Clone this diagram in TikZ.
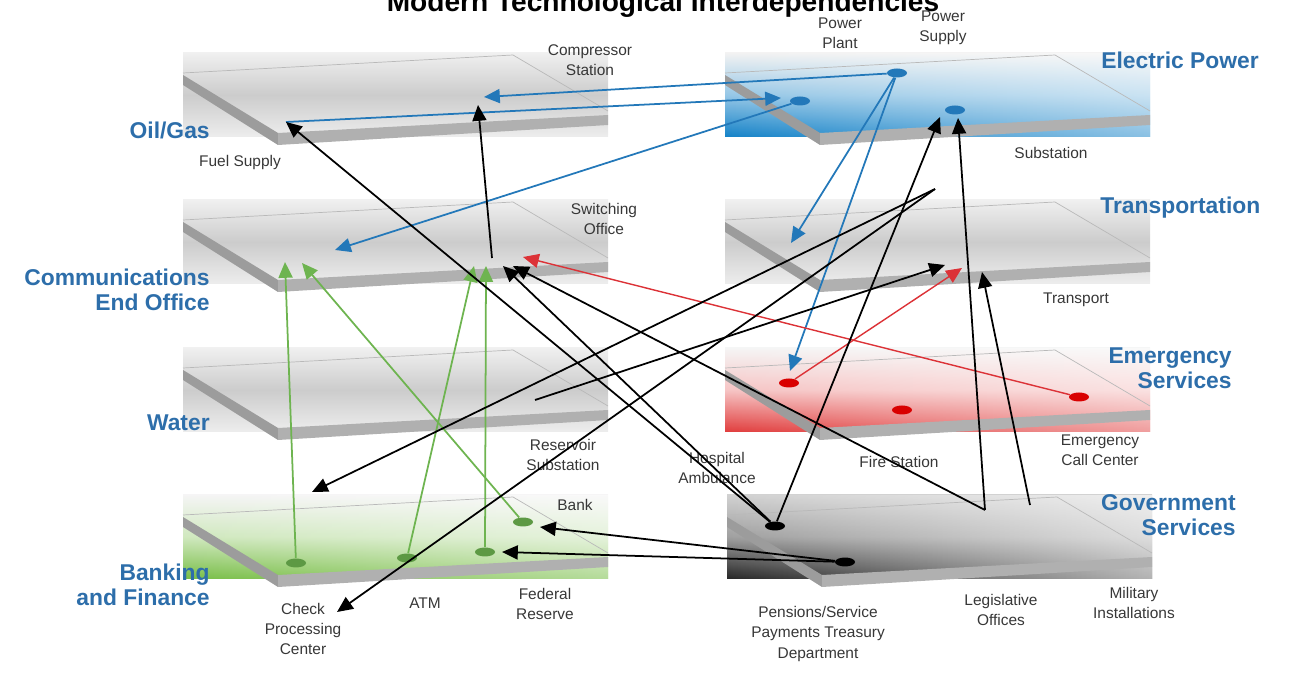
\documentclass[tikz,border=0pt]{standalone}
\usepackage{fontspec}
\setmainfont{Liberation Sans}
\usepackage{tikz}
\usetikzlibrary{shapes,arrows.meta,fadings}

\definecolor{catblue}{RGB}{45,110,170}
\definecolor{txtgray}{RGB}{55,55,55}
\definecolor{linkblue}{RGB}{35,120,185}
\definecolor{linkgreen}{RGB}{110,180,80}
\definecolor{linkred}{RGB}{220,50,55}
\definecolor{elecblue}{RGB}{20,130,200}
\definecolor{emred}{RGB}{225,60,60}
\definecolor{bankgreen}{RGB}{120,190,70}

\tikzstyle{graylayer} = [top color=gray!12, bottom color=gray!14, middle color=gray!40]
\tikzstyle{eleclayer} = [top color=gray!10, bottom color=elecblue, middle color=elecblue!45]
\tikzstyle{emlayer} = [top color=gray!8, bottom color=emred, middle color=emred!30]
\tikzstyle{banklayer} = [top color=gray!8, bottom color=bankgreen, middle color=bankgreen!35]
\tikzstyle{govlayer} = [top color=gray!36, bottom color=black!85, middle color=gray!75]
\tikzstyle{sideband} = [fill=gray!78]
\tikzstyle{frontband} = [fill=gray!62]
\tikzstyle{backedge} = [draw=gray!55, line width=0.4pt]
\tikzstyle{cat} = [text=catblue, font=\bfseries\fontsize{13}{14.5}\selectfont, align=right, inner sep=0pt]
\tikzstyle{lbl} = [text=txtgray, font=\fontsize{8.8}{11.5}\selectfont, align=center, inner sep=0pt]
\tikzstyle{dot} = [ellipse, minimum width=0.4cm, minimum height=0.18cm, inner sep=0pt]
\tikzstyle{link} = [line width=1pt, ->]
\tikzstyle{blk} = [link, black]
\tikzstyle{blu} = [link, linkblue]
\tikzstyle{grn} = [link, linkgreen]
\tikzstyle{rd} = [link, linkred, line width=0.8pt]

% one slab: left x, top y, fill style, whitening towards the right
\newcommand{\slabplane}[4]{%
  \begin{scope}[shift={(#1,#2)}]
    \fill[#3] (0,0) rectangle (425,84);
    \fill[white, path fading=west, fill opacity=#4] (0,0) rectangle (425,84);
    \draw[backedge] (0,20) -- (330,2) -- (425,58);
    \fill[sideband] (0,22) -- (95,80) -- (95,92) -- (0,32) -- cycle;
    \fill[frontband] (95,80) -- (425,62) -- (425,72) -- (95,92) -- cycle;
  \end{scope}}

\begin{document}
\begin{tikzpicture}[x=0.02cm, y=-0.02cm, >={Triangle[length=9pt,width=8pt]}]
    \useasboundingbox (0,0) rectangle (1289,675);
    % We start by placing the layers
    \slabplane{183}{53}{graylayer}{0}
    \slabplane{183}{200}{graylayer}{0}
    \slabplane{183}{348}{graylayer}{0}
    \slabplane{183}{495}{banklayer}{0.45}
    \slabplane{725}{53}{eleclayer}{0.5}
    \slabplane{725}{200}{graylayer}{0}
    \slabplane{725}{348}{emlayer}{0.5}
    \slabplane{727}{495}{govlayer}{0.65}

    % title and sector names
    \node[anchor=base, font=\bfseries\fontsize{16}{18}\selectfont] (title) at (663,12) {Modern Technological Interdependencies};
    \node[cat, anchor=east] (oil) at (210,130) {Oil/Gas};
    \node[cat, anchor=east] (comm) at (210,290) {Communications\\End Office};
    \node[cat, anchor=east] (water) at (210,423) {Water};
    \node[cat, anchor=east] (banking) at (210,585) {Banking\\and Finance};
    \node[cat, anchor=west] (elec) at (1101,60) {Electric Power};
    \node[cat, anchor=west] (trans) at (1100,208) {Transportation};
    \node[cat, anchor=east] (emerg) at (1232,368) {Emergency\\Services};
    \node[cat, anchor=east] (gov) at (1236,515) {Government\\Services};

    % facility names
    \node[lbl] (compr-l) at (590,60) {Compressor\\Station};
    \node[lbl] (fuel-l) at (240,163) {Fuel Supply};
    \node[lbl] (plant-l) at (840,33) {Power\\Plant};
    \node[lbl] (supply-l) at (943,28) {Power\\Supply};
    \node[lbl] (subst-l) at (1051,153) {Substation};
    \node[lbl] (switch-l) at (604,219) {Switching\\Office};
    \node[lbl] (transp-l) at (1076,300) {Transport};
    \node[lbl] (reserv-l) at (563,455) {Reservoir\\Substation};
    \node[lbl] (hosp-l) at (717,468) {Hospital\\Ambulance};
    \node[lbl] (fire-l) at (899,462) {Fire Station};
    \node[lbl] (call-l) at (1100,450) {Emergency\\Call Center};
    \node[lbl] (bank-l) at (575,505) {Bank};
    \node[lbl] (check-l) at (303,629) {Check\\Processing\\Center};
    \node[lbl] (atm-l) at (425,603) {ATM};
    \node[lbl] (fed-l) at (545,604) {Federal\\Reserve};
    \node[lbl] (pens-l) at (818,634) {Pensions/Service\\Payments Treasury\\Department};
    \node[lbl] (legis-l) at (1001,610) {Legislative\\Offices};
    \node[lbl] (milit-l) at (1134,603) {Military\\Installations};

    % the facilities
    \node[dot, fill=linkblue] (plant) at (897,73) {};
    \node[dot, fill=linkblue] (supply) at (800,101) {};
    \node[dot, fill=linkblue] (subst) at (955,110) {};
    \node[dot, fill=red!85!black] (hosp) at (789,383) {};
    \node[dot, fill=red!85!black] (fire) at (902,410) {};
    \node[dot, fill=red!85!black] (call) at (1079,397) {};
    \node[dot, fill=linkgreen!85!black] (check) at (296,563) {};
    \node[dot, fill=linkgreen!85!black] (atm) at (407,558) {};
    \node[dot, fill=linkgreen!85!black] (fed) at (485,552) {};
    \node[dot, fill=linkgreen!85!black] (bank) at (523,522) {};
    \node[dot, fill=black] (pens) at (775,526) {};
    \node[dot, fill=black] (treas) at (845,562) {};

    % free ends and arrow tips
    \coordinate (fuel) at (286,122);
    \coordinate (compr-a) at (484,97);
    \coordinate (compr-b) at (478,105);
    \coordinate (supply-in) at (781,98);
    \coordinate (subst-a) at (940,117);
    \coordinate (subst-b) at (958,118);
    \coordinate (subst-out) at (935,189);
    \coordinate (comm-a) at (285,262);
    \coordinate (comm-b) at (302,263);
    \coordinate (comm-c) at (335,250);
    \coordinate (switch-out) at (492,258);
    \coordinate (switch-g1) at (474,266);
    \coordinate (switch-g2) at (486,266);
    \coordinate (switch-k1) at (503,266);
    \coordinate (switch-k2) at (513,266);
    \coordinate (switch-r) at (523,257);
    \coordinate (trans-b) at (791,243);
    \coordinate (trans-k1) at (945,265);
    \coordinate (trans-r) at (962,268);
    \coordinate (trans-k2) at (982,272);
    \coordinate (reserv) at (535,400);
    \coordinate (emerg-b) at (790,371);
    \coordinate (banking-in) at (312,492);
    \coordinate (check-in) at (337,612);
    \coordinate (bank-in) at (540,527);
    \coordinate (fed-in) at (502,552);
    \coordinate (legis) at (985,510);
    \coordinate (milit) at (1030,505);

    % blue links from electric power
    \draw[blu] (plant) -- (compr-a);
    \draw[blu] (fuel) -- (supply-in);
    \draw[blu] (supply) -- (comm-c);
    \draw[blu] (plant) -- (trans-b);
    \draw[blu] (plant) -- (emerg-b);
    % green links from banking
    \draw[grn] (check) -- (comm-a);
    \draw[grn] (bank) -- (comm-b);
    \draw[grn] (atm) -- (switch-g1);
    \draw[grn] (fed) -- (switch-g2);
    % red links from emergency services
    \draw[rd] (call) -- (switch-r);
    \draw[rd] (hosp) -- (trans-r);
    % black links
    \draw[blk] (pens) -- (fuel);
    \draw[blk] (pens) -- (switch-k1);
    \draw[blk] (pens) -- (subst-a);
    \draw[blk] (legis) -- (subst-b);
    \draw[blk] (legis) -- (switch-k2);
    \draw[blk] (milit) -- (trans-k2);
    \draw[blk] (treas) -- (bank-in);
    \draw[blk] (treas) -- (fed-in);
    \draw[blk] (switch-out) -- (compr-b);
    \draw[blk] (subst-out) -- (banking-in);
    \draw[blk] (subst-out) -- (check-in);
    \draw[blk] (reserv) -- (trans-k1);
\end{tikzpicture}
\end{document}
